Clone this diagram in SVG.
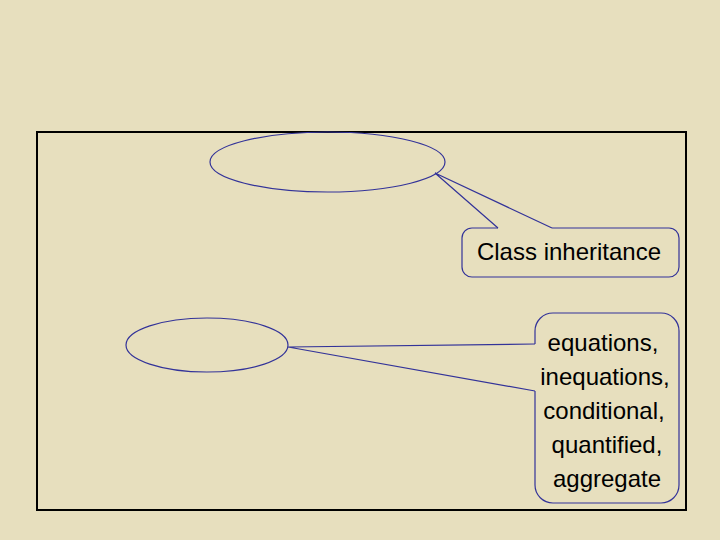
<svg xmlns="http://www.w3.org/2000/svg" width="720" height="540" viewBox="0 0 720 540">
  <style>
    .shape { fill: none; stroke: #333399; stroke-width: 1.2; }
    .conn { fill: none; stroke: #333399; stroke-width: 1.2; stroke-linejoin: miter; }
    .label { font-family: "Liberation Sans", Arial, sans-serif; font-size: 24px; fill: #000000; text-anchor: middle; }
  </style>
  <rect x="0" y="0" width="720" height="540" fill="#E7DFBE"/>
  <g id="frame">
    <rect x="37" y="132" width="649" height="378" fill="none" stroke="#000000" stroke-width="2"/>
  </g>
  <g id="connectors">
    <polyline class="conn" points="498,228 435,173 552,228"/>
    <polyline class="conn" points="535,344 288,347 535,391"/>
  </g>
  <g id="ellipse-top">
    <ellipse class="shape" cx="327.5" cy="162" rx="117.5" ry="30"/>
  </g>
  <g id="ellipse-bottom">
    <ellipse class="shape" cx="207" cy="345" rx="81" ry="27"/>
  </g>
  <g id="callout-class">
    <path class="shape" d="M 552,228 L 669,228 A 10 10 0 0 1 679,238 L 679,267 A 10 10 0 0 1 669,277 L 472,277 A 10 10 0 0 1 462,267 L 462,238 A 10 10 0 0 1 472,228 L 498,228"/>
    <text class="label" x="569" y="260">Class inheritance</text>
  </g>
  <g id="callout-constraints">
    <path class="shape" d="M 535,391 L 535,485 A 18 18 0 0 0 553,503 L 661,503 A 18 18 0 0 0 679,485 L 679,331 A 18 18 0 0 0 661,313 L 553,313 A 18 18 0 0 0 535,331 L 535,344"/>
    <text class="label" x="603" y="351">equations,</text>
    <text class="label" x="605" y="385">inequations,</text>
    <text class="label" x="604" y="419">conditional,</text>
    <text class="label" x="607" y="453">quantified,</text>
    <text class="label" x="607" y="487">aggregate</text>
  </g>
</svg>
